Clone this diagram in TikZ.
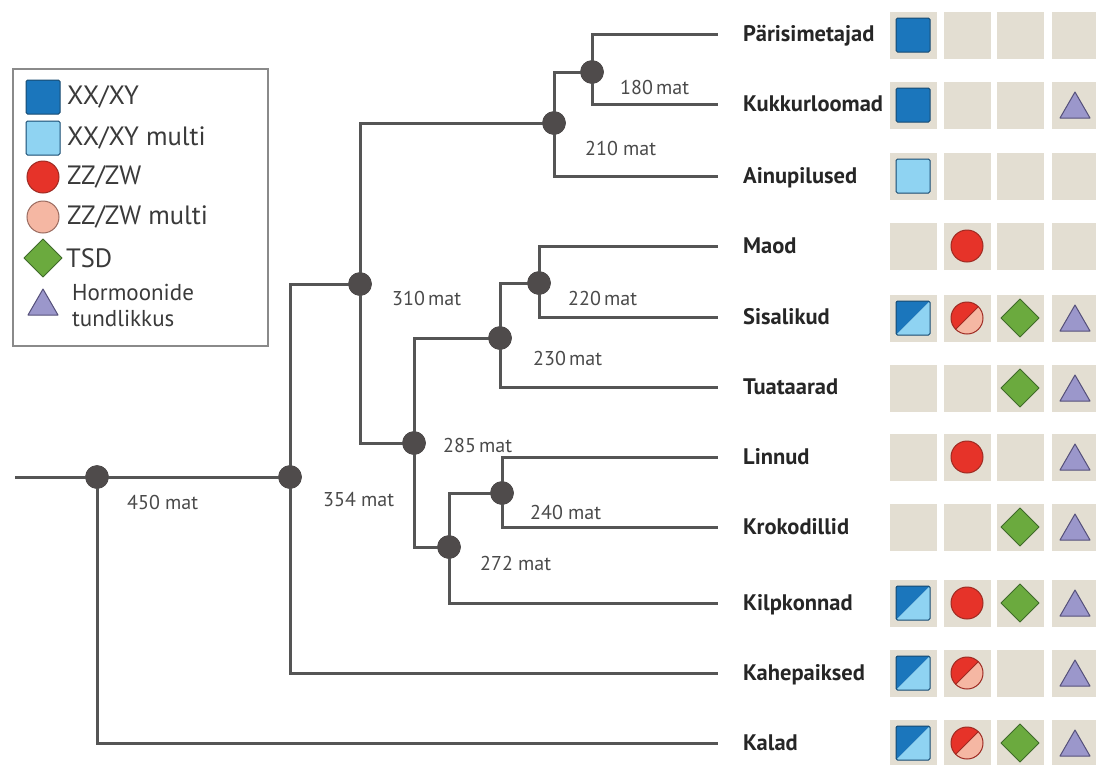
\documentclass[tikz,border=0pt]{standalone}
\usepackage{fontspec}
\setmainfont{PT Sans}
\definecolor{cellbg}{HTML}{E3DED2}
\definecolor{blueD}{HTML}{1B76BC}
\definecolor{blueDe}{HTML}{174A70}
\definecolor{blueL}{HTML}{8FD3F2}
\definecolor{redC}{HTML}{E63329}
\definecolor{redE}{HTML}{9E2A22}
\definecolor{pinkC}{HTML}{F5B7A3}
\definecolor{pinkE}{HTML}{9A6A5E}
\definecolor{greenC}{HTML}{6BAA3E}
\definecolor{greenE}{HTML}{3F6A2A}
\definecolor{purpC}{HTML}{9B97CB}
\definecolor{purpE}{HTML}{55507A}
\definecolor{linegray}{HTML}{555555}
\definecolor{nodegray}{HTML}{4F4B4B}
\definecolor{agegray}{HTML}{4A4A4A}
\definecolor{legborder}{HTML}{8A8A8A}
\definecolor{legtxt}{HTML}{3A3A3A}
\tikzset{
  branch/.style={draw=linegray, line width=3pt},
  junc/.style={circle, fill=nodegray, draw=nodegray!80!black, line width=0.6pt, minimum size=23pt, inner sep=0pt},
  age/.style={text=agegray, font=\fontsize{20}{20}\selectfont, inner sep=0pt, anchor=west},
  leaf/.style={text=black!85, font=\bfseries\fontsize{22.5}{22.5}\selectfont, inner sep=0pt, anchor=base west},
  legtext/.style={text=legtxt, font=\fontsize{26.5}{26.5}\selectfont, inner sep=0pt, anchor=west},
  legtext2/.style={text=legtxt, font=\fontsize{23}{23}\selectfont, inner sep=0pt, anchor=west},
  cell/.style={fill=cellbg, draw=none, minimum size=47pt, inner sep=0pt},
  pics/xx/.style={code={\filldraw[fill=blueD, draw=blueDe, line width=1pt, rounded corners=1.5pt] (-17,-17) rectangle (17,17);}},
  pics/xxm/.style={code={\filldraw[fill=blueL, draw=blueDe, line width=1pt, rounded corners=1.5pt] (-17,-17) rectangle (17,17);}},
  pics/xxs/.style={code={
     \fill[blueD] (-17,17) -- (-17,-17) -- (17,-17) -- cycle;
     \fill[blueL] (-17,17) -- (17,17) -- (17,-17) -- cycle;
     \draw[blueDe, line width=1pt, rounded corners=1.5pt] (-17,-17) rectangle (17,17);}},
  pics/zz/.style={code={\filldraw[fill=redC, draw=redE, line width=1pt] (0,0) circle[radius=16];}},
  pics/zzm/.style={code={\filldraw[fill=pinkC, draw=pinkE, line width=1pt] (0,0) circle[radius=16];}},
  pics/zzs/.style={code={
     \fill[redC] (-45:16) arc[start angle=-45, end angle=-225, radius=16] -- cycle;
     \fill[pinkC] (-45:16) arc[start angle=-45, end angle=135, radius=16] -- cycle;
     \draw[redE, line width=1pt] (-45:16) -- (135:16);
     \draw[redE, line width=1pt] (0,0) circle[radius=16];}},
  pics/tsd/.style={code={\filldraw[fill=greenC, draw=greenE, line width=1pt, line join=round] (0,-19) -- (19,0) -- (0,19) -- (-19,0) -- cycle;}},
  pics/hor/.style={code={\filldraw[fill=purpC, draw=purpE, line width=1pt, line join=round] (-15,13) -- (15,13) -- (0,-13) -- cycle;}},
}
\begin{document}
\begin{tikzpicture}[x=1pt, y=-1pt]
\useasboundingbox (0,0) rectangle (1096,764);
\fill[white] (0,0) rectangle (1096,764);

% ---------- legend ----------
\node[draw=legborder, line width=1.5pt, minimum width=255pt, minimum height=277pt, inner sep=0pt, anchor=north west] (legend) at (12,68) {};
\pic at (43,97) {xx};
\node[legtext] (lg1) at (67,97) {XX/XY};
\pic at (43,138) {xxm};
\node[legtext] (lg2) at (67,138) {XX/XY multi};
\pic at (43,177) {zz};
\node[legtext] (lg3) at (67,177) {ZZ/ZW};
\pic at (43,217) {zzm};
\node[legtext] (lg4) at (67,217) {ZZ/ZW multi};
\pic at (43,258) {tsd};
\node[legtext] (lg5) at (66,258) {TSD};
\pic at (43,302) {hor};
\node[legtext2] (lg6) at (72,292) {Hormoonide};
\node[legtext2] (lg7) at (72,318) {tundlikkus};

% ---------- leaf end points ----------
\foreach \n/\yy in {P/34, Ku/104, A/176, M/246, S/317, T/387, L/457, Kr/527, Ki/603, Ka/673, Kal/743}{
  \coordinate (e\n) at (718,\yy);
}
\coordinate (root) at (15,477);

% ---------- junctions ----------
\node[junc] (n450) at (97,477) {};
\node[junc] (n354) at (290,477) {};
\node[junc] (n310) at (360,284) {};
\node[junc] (n210) at (554,123) {};
\node[junc] (n180) at (592,72) {};
\node[junc] (n285) at (414,443) {};
\node[junc] (n230) at (500,338) {};
\node[junc] (n220) at (539,283) {};
\node[junc] (n272) at (449,547) {};
\node[junc] (n240) at (502,493) {};

% ---------- branches ----------
\draw[branch] (root) -- (n450.center);
\draw[branch] (n450.center) -- (n354.center);
\draw[branch] (n450.center) |- (eKal);
\draw[branch] (n354.center) |- (n310.center);
\draw[branch] (n354.center) |- (eKa);
\draw[branch] (n310.center) |- (n210.center);
\draw[branch] (n310.center) |- (n285.center);
\draw[branch] (n210.center) |- (n180.center);
\draw[branch] (n210.center) |- (eA);
\draw[branch] (n180.center) |- (eP);
\draw[branch] (n180.center) |- (eKu);
\draw[branch] (n285.center) |- (n230.center);
\draw[branch] (n285.center) |- (n272.center);
\draw[branch] (n230.center) |- (n220.center);
\draw[branch] (n230.center) |- (eT);
\draw[branch] (n220.center) |- (eM);
\draw[branch] (n220.center) |- (eS);
\draw[branch] (n272.center) |- (n240.center);
\draw[branch] (n272.center) |- (eKi);
\draw[branch] (n240.center) |- (eL);
\draw[branch] (n240.center) |- (eKr);
% redraw junctions on top
\foreach \j in {n450,n354,n310,n210,n180,n285,n230,n220,n272,n240}{
  \fill[nodegray] (\j) circle[radius=11.5];
}

% ---------- ages ----------
\node[age] (a450) at (127,502) {450 mat};
\node[age] (a354) at (323,500) {354 mat};
\node[age] (a310) at (392,298) {310\,mat};
\node[age] (a210) at (585,148) {210 mat};
\node[age] (a180) at (620,87) {180\,mat};
\node[age] (a285) at (443,445) {285\,mat};
\node[age] (a230) at (533,358) {230\,mat};
\node[age] (a220) at (568,298) {220\,mat};
\node[age] (a240) at (530,512) {240 mat};
\node[age] (a272) at (480,563) {272 mat};

% ---------- leaf labels ----------
\node[leaf] (tP) at (743,41.5) {Pärisimetajad};
\node[leaf] (tKu) at (743,111.5) {Kukkurloomad};
\node[leaf] (tA) at (743,183.5) {Ainupilused};
\node[leaf] (tM) at (743,253.5) {Maod};
\node[leaf] (tS) at (743,324.5) {Sisalikud};
\node[leaf] (tT) at (743,394.5) {Tuataarad};
\node[leaf] (tL) at (743,464.5) {Linnud};
\node[leaf] (tKr) at (743,534.5) {Krokodillid};
\node[leaf] (tKi) at (743,610.5) {Kilpkonnad};
\node[leaf] (tKa) at (743,680.5) {Kahepaiksed};
\node[leaf] (tKal) at (743,750.5) {Kalad};

% ---------- cells ----------
\foreach \r/\yy in {1/35, 2/105, 3/176, 4/246, 5/318, 6/388, 7/457, 8/527, 9/603, 10/673, 11/743}{
  \foreach \c/\xx in {1/913, 2/967, 3/1020, 4/1075}{
    \node[cell] (c\r-\c) at (\xx,\yy) {};
  }
}
% row 1 Pärisimetajad
\pic at (c1-1) {xx};
% row 2 Kukkurloomad
\pic at (c2-1) {xx}; \pic at (c2-4) {hor};
% row 3 Ainupilused
\pic at (c3-1) {xxm};
% row 4 Maod
\pic at (c4-2) {zz};
% row 5 Sisalikud
\pic at (c5-1) {xxs}; \pic at (c5-2) {zzs}; \pic at (c5-3) {tsd}; \pic at (c5-4) {hor};
% row 6 Tuataarad
\pic at (c6-3) {tsd}; \pic at (c6-4) {hor};
% row 7 Linnud
\pic at (c7-2) {zz}; \pic at (c7-4) {hor};
% row 8 Krokodillid
\pic at (c8-3) {tsd}; \pic at (c8-4) {hor};
% row 9 Kilpkonnad
\pic at (c9-1) {xxs}; \pic at (c9-2) {zz}; \pic at (c9-3) {tsd}; \pic at (c9-4) {hor};
% row 10 Kahepaiksed
\pic at (c10-1) {xxs}; \pic at (c10-2) {zzs}; \pic at (c10-4) {hor};
% row 11 Kalad
\pic at (c11-1) {xxs}; \pic at (c11-2) {zzs}; \pic at (c11-3) {tsd}; \pic at (c11-4) {hor};
\end{tikzpicture}
\end{document}
